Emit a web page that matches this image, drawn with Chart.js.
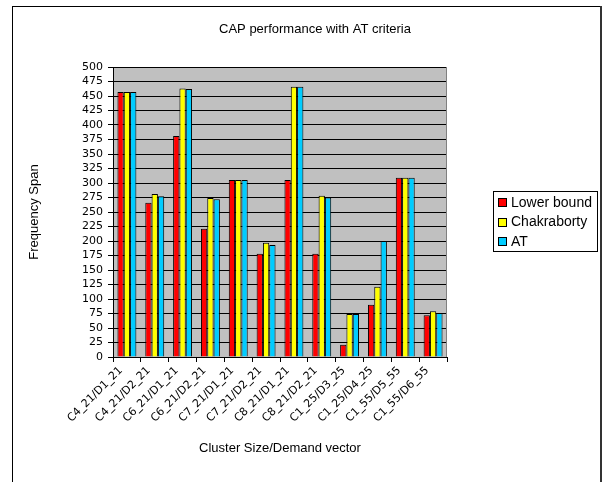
<!DOCTYPE html>
<html>
<head>
<meta charset="utf-8">
<script src="https://cdn.jsdelivr.net/npm/chart.js@4.4.1/dist/chart.umd.min.js"></script>
<style>
  html, body { margin: 0; padding: 0; background: #fff; }
  canvas { display: block; }
</style>
</head>
<body>
<canvas id="chart" width="603" height="482"></canvas>
<script>
// Cluster size / demand vector cases
const categories = [
  'C4_21/D1_21', 'C4_21/D2_21', 'C6_21/D1_21', 'C6_21/D2_21',
  'C7_21/D1_21', 'C7_21/D2_21', 'C8_21/D1_21', 'C8_21/D2_21',
  'C1_25/D3_25', 'C1_25/D4_25', 'C1_55/D5_55', 'C1_55/D6_55'
];

// Frequency span per method
const lowerBound  = [457, 266, 381, 221, 305, 178, 305, 178, 21, 90, 309, 72];
const chakraborty = [457, 281, 463, 274, 305, 197, 466, 278, 74, 121, 309, 79];
const atCriteria  = [457, 277, 462, 272, 305, 193, 466, 275, 74, 200, 309, 76];

// Value axis tick labels
const yTickValues = [0, 25, 50, 75, 100, 125, 150, 175, 200, 225, 250, 275,
                     300, 325, 350, 375, 400, 425, 450, 475, 500];

const chartTitle = 'CAP performance with AT criteria';
const xTitle = 'Cluster Size/Demand vector';
const yTitle = 'Frequency Span';

const TEXT_FONT = '"Liberation Sans", Arial, sans-serif';
const TICK_FONT = '"DejaVu Sans", sans-serif';

// Outer frame, grey plot background, title and boxed legend
const decorPlugin = {
  id: 'decor',
  beforeDraw(chart) {
    const { ctx, chartArea: a } = chart;
    ctx.save();
    ctx.fillStyle = '#fff';
    ctx.fillRect(0, 0, chart.width, chart.height);
    ctx.strokeStyle = '#000';
    ctx.lineWidth = 1;
    ctx.strokeRect(12.5, 6.5, 588, 520);
    ctx.fillStyle = '#333';
    ctx.fillRect(600, 6, 2, chart.height);
    ctx.fillStyle = '#c0c0c0';
    ctx.fillRect(a.left, a.top, a.right - a.left, a.bottom - a.top);
    ctx.restore();
  },
  afterDatasetsDraw(chart) {
    const { ctx, chartArea: a } = chart;
    ctx.save();
    ctx.strokeStyle = '#808080';
    ctx.lineWidth = 1;
    ctx.beginPath();
    ctx.moveTo(Math.round(a.right) - 0.5, a.top);
    ctx.lineTo(Math.round(a.right) - 0.5, a.bottom);
    ctx.stroke();
    ctx.restore();
  },
  afterDraw(chart) {
    const { ctx } = chart;
    ctx.save();
    // title
    ctx.fillStyle = '#000';
    ctx.font = '13px ' + TEXT_FONT;
    ctx.textAlign = 'center';
    ctx.textBaseline = 'middle';
    ctx.fillText(chartTitle, 315, 29);

    // legend
    const bx = 493, by = 191, bw = 104, bh = 60;
    ctx.fillStyle = '#fff';
    ctx.fillRect(bx, by, bw, bh);
    ctx.strokeStyle = '#000';
    ctx.strokeRect(bx + 0.5, by + 0.5, bw, bh);
    ctx.font = '14px ' + TEXT_FONT;
    ctx.textAlign = 'left';
    chart.data.datasets.forEach((ds, i) => {
      const cy = by + 11 + i * 19.5;
      ctx.fillStyle = ds.backgroundColor;
      ctx.fillRect(498, Math.round(cy - 4), 8, 8);
      ctx.strokeStyle = '#000';
      ctx.strokeRect(498.5, Math.round(cy - 4) + 0.5, 8, 8);
      ctx.fillStyle = '#000';
      ctx.fillText(ds.label, 511, cy + 1);
    });
    ctx.restore();
  }
};

const barStyle = { borderColor: '#000', borderWidth: 1, categoryPercentage: 0.68, barPercentage: 1.0 };

new Chart(document.getElementById('chart'), {
  type: 'bar',
  data: {
    labels: categories,
    datasets: [
      { label: 'Lower bound', data: lowerBound, backgroundColor: '#ff0000', ...barStyle },
      { label: 'Chakraborty', data: chakraborty, backgroundColor: '#ffff00', ...barStyle },
      { label: 'AT', data: atCriteria, backgroundColor: '#00ccff', ...barStyle }
    ]
  },
  options: {
    responsive: false,
    animation: false,
    devicePixelRatio: 1,
    layout: { padding: { left: 0, top: 67, right: 156, bottom: 0 } },
    plugins: {
      legend: { display: false },
      title: { display: false },
      tooltip: { enabled: false }
    },
    scales: {
      x: {
        grid: { display: true, offset: true, drawOnChartArea: false, drawTicks: true,
                tickLength: 5, tickColor: '#000', color: '#000' },
        border: { display: true, color: '#000' },
        ticks: {
          autoSkip: false, minRotation: 45, maxRotation: 45, padding: 2, labelOffset: -6,
          color: '#000', font: { family: TICK_FONT, size: 11 }
        },
        title: {
          display: true, text: xTitle, color: '#000',
          font: { family: TEXT_FONT, size: 13 },
          padding: { top: 0, bottom: 26 }
        },
        afterFit(scale) { scale.height = 125; }
      },
      y: {
        min: 0, max: 500,
        afterBuildTicks(scale) { scale.ticks = yTickValues.map(v => ({ value: v })); },
        grid: { color: '#000', lineWidth: 1, drawTicks: true, tickLength: 5, tickColor: '#000' },
        border: { display: true, color: '#000' },
        ticks: { autoSkip: false, padding: 5, color: '#000', font: { family: TICK_FONT, size: 11 } },
        title: {
          display: true, text: yTitle, color: '#000',
          font: { family: TEXT_FONT, size: 13 },
          padding: { top: 27, bottom: 0 }
        },
        afterFit(scale) { scale.width = 113; }
      }
    }
  },
  plugins: [decorPlugin]
});
</script>
</body>
</html>
